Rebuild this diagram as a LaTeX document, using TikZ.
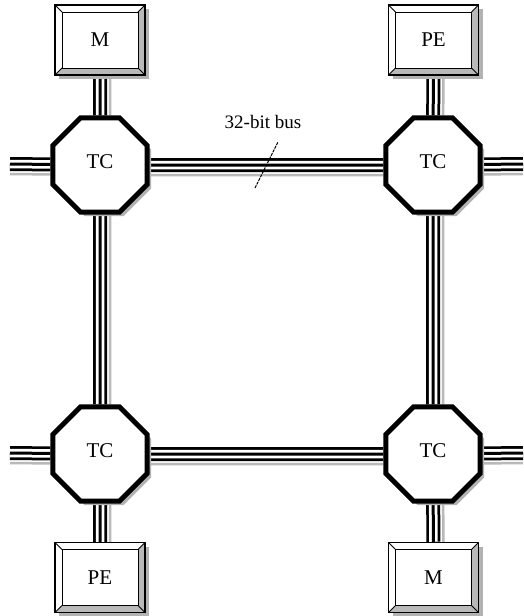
\documentclass[tikz,border=0pt]{standalone}
\usepackage{fontspec}
\setmainfont{Liberation Serif}
\usetikzlibrary{shapes.geometric,shadows,backgrounds}
\newcommand{\bigfs}{\fontsize{21}{23}\selectfont}
\tikzset{
  x=1pt,y=1pt,
  busbase/.style={line width=3, draw=black,
    preaction={draw=black, line width=14},
    preaction={draw=white, line width=8.5}},
  hbus/.style={preaction={draw=gray!55, line width=2.5, transform canvas={yshift=-10pt}}, busbase},
  vbus/.style={preaction={draw=gray!55, line width=2.5, transform canvas={xshift=10pt}}, busbase},
  tc/.style={regular polygon, regular polygon sides=8, minimum size=102, inner sep=0,
    draw=black, line width=5, fill=white, font=\bigfs,
    drop shadow={shadow xshift=4pt, shadow yshift=-4pt, fill=gray!60, opacity=1}},
  unit/.style={rectangle, draw=black, line width=1.5, fill=white, minimum width=90, minimum height=70,
    inner sep=0, font=\bigfs,
    drop shadow={shadow xshift=4pt, shadow yshift=-4pt, fill=gray!60, opacity=1},
    path picture={
      \coordinate (pa) at (path picture bounding box.south west);
      \coordinate (pb) at (path picture bounding box.north east);
      \fill[gray!55] (pa) -- ([shift={(7pt,7pt)}]pa) -- ([shift={(-7pt,7pt)}]pa -| pb)
        -- ([shift={(-7pt,-7pt)}]pb) -- (pb) -- (pa -| pb) -- cycle;
      \draw[line width=1] ([shift={(7pt,7pt)}]pa) rectangle ([shift={(-7pt,-7pt)}]pb);
      \draw[line width=0.8] (pa) -- ([shift={(7pt,7pt)}]pa)
        (pb) -- ([shift={(-7pt,-7pt)}]pb)
        (pa -| pb) -- ([shift={(-7pt,7pt)}]pa -| pb)
        (pa |- pb) -- ([shift={(7pt,-7pt)}]pa |- pb);
    }},
}
\begin{document}
\begin{tikzpicture}
\useasboundingbox (0,0) rectangle (523,-616);
\node[tc] (tc1) at (100,-165) {\raisebox{7pt}{TC}};
\node[tc] (tc2) at (433,-165) {\raisebox{7pt}{TC}};
\node[tc] (tc3) at (100,-454) {\raisebox{7pt}{TC}};
\node[tc] (tc4) at (433,-454) {\raisebox{7pt}{TC}};
\node[unit] (m1) at (100,-40) {M};
\node[unit] (pe1) at (433.5,-40) {PE};
\node[unit] (pe2) at (100,-577.5) {PE};
\node[unit] (m2) at (433.5,-577.5) {M};
\coordinate (l1) at (10,-164);
\coordinate (r1) at (523,-164);
\coordinate (l2) at (10,-453);
\coordinate (r2) at (523,-453);
\node[font=\fontsize{19}{21}\selectfont] (lbl) at (263,-122) {32-bit bus};
\coordinate (s1) at (255,-188);
\coordinate (s2) at (278,-142);
\begin{scope}[on background layer]
  \draw[vbus] (tc1) -- (m1);
  \draw[vbus] (tc2) -- (pe1);
  \draw[vbus] (tc3) -- (pe2);
  \draw[vbus] (tc4) -- (m2);
  \draw[vbus] (tc1) -- (tc3);
  \draw[vbus] (tc2) -- (tc4);
  \draw[hbus] (tc1) -- (tc2);
  \draw[hbus] (tc3) -- (tc4);
  \draw[hbus] (l1) -- (tc1);
  \draw[hbus] (tc2) -- (r1);
  \draw[hbus] (l2) -- (tc3);
  \draw[hbus] (tc4) -- (r2);
\end{scope}
\draw[line width=1, dash pattern=on 3pt off 1pt] (s1) -- (s2);
\end{tikzpicture}
\end{document}
